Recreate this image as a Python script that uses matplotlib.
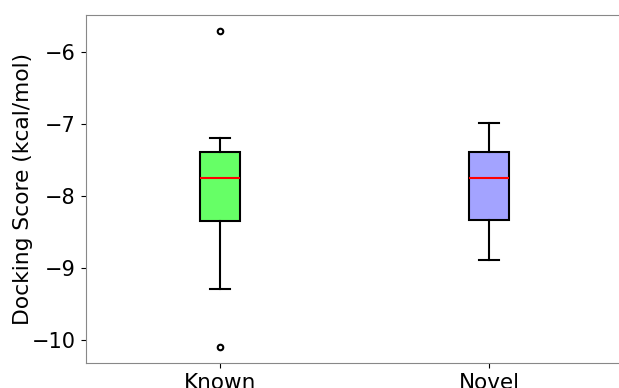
import matplotlib.pyplot as plt

# summary stats
groups = ['Known', 'Novel']
whislo = [-9.29, -8.89]
q1 = [-8.35, -8.33]
med = [-7.75, -7.75]
q3 = [-7.39, -7.39]
whishi = [-7.19, -6.99]
fliers = [[-5.70, -10.10], []]
colors = ['#66ff66', '#a3a3ff']

stats = []
for i in range(len(groups)):
    stats.append({'label': groups[i], 'whislo': whislo[i], 'q1': q1[i], 'med': med[i],
                  'q3': q3[i], 'whishi': whishi[i], 'fliers': fliers[i]})

fig = plt.figure(figsize=(6.19, 3.88), dpi=100)
ax = fig.add_axes([85.5 / 619, 1 - 363.3 / 388, 538 / 619, (363.3 - 14.7) / 388])

bp = ax.bxp(stats, widths=0.15, patch_artist=True,
            boxprops=dict(edgecolor='black', linewidth=1.5),
            whiskerprops=dict(color='black', linewidth=1.5),
            capprops=dict(color='black', linewidth=1.5),
            medianprops=dict(color='red', linewidth=1.5),
            flierprops=dict(marker='o', markersize=4, markerfacecolor='none',
                            markeredgecolor='black', markeredgewidth=1.5))
for patch, c in zip(bp['boxes'], colors):
    patch.set_facecolor(c)

ax.set_xlim(0.5, 2.5)
ax.set_ylabel('Docking Score (kcal/mol)', fontsize=15.7)
ax.yaxis.set_label_coords(-0.098, 0.5)
ax.tick_params(axis='x', labelsize=15.5)
ax.tick_params(axis='y', labelsize=15)
for s in ax.spines.values():
    s.set_color('#888888')

plt.savefig('out.png', dpi=100)
